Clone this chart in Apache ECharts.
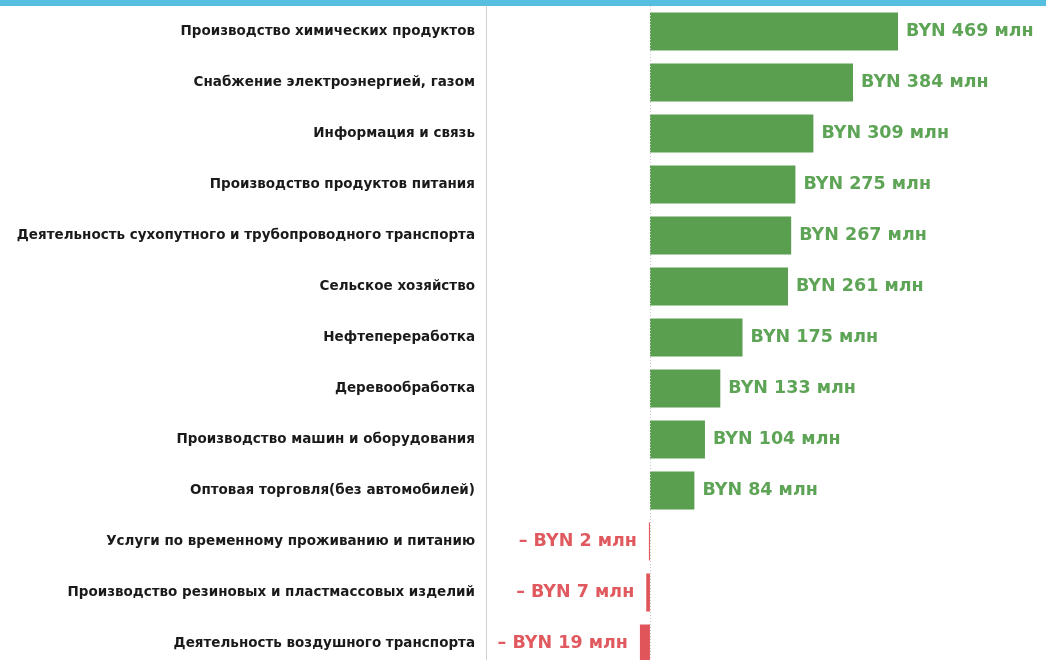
<!DOCTYPE html>
<html><head><meta charset="utf-8">
<script src="https://cdn.jsdelivr.net/npm/echarts@6/dist/echarts.min.js"></script>
<style>html,body{margin:0;padding:0;background:#fff;overflow:hidden;height:660px}#c{width:1046px;height:669px}</style>
</head><body><div id="c"></div>
<script>
const categories = [
  'Производство химических продуктов',
  'Снабжение электроэнергией, газом',
  'Информация и связь',
  'Производство продуктов питания',
  'Деятельность сухопутного и трубопроводного транспорта',
  'Сельское хозяйство',
  'Нефтепереработка',
  'Деревообработка',
  'Производство машин и оборудования',
  'Оптовая торговля(без автомобилей)',
  'Услуги по временному проживанию и питанию',
  'Производство резиновых и пластмассовых изделий',
  'Деятельность воздушного транспорта'
];
const values = [469, 384, 309, 275, 267, 261, 175, 133, 104, 84, -2, -7, -19];
const posColor = '#5a9e50', negColor = '#e0555a';
const posLabel = '#5ea456', negLabel = '#e0595e';

const chart = echarts.init(document.getElementById('c'));
chart.setOption({
  animation: false,
  backgroundColor: '#fff',
  graphic: [{type:'rect', shape:{x:0,y:0,width:1046,height:6}, style:{fill:'#56bfe0'}}],
  grid: {left: 486, top: 6, width: 412, bottom: 0, containLabel: false},
  xAxis: {type:'value', min:-310, max:469, show:false},
  yAxis: {
    type:'category', data: categories, inverse: true,
    axisLine:{show:true, onZero:false, lineStyle:{color:'#cfcfcf', width:1}},
    axisTick:{show:false},
    axisLabel:{margin:11, color:'#1a1a1a', fontFamily:'DejaVu Sans', fontWeight:'bold', fontSize:13.5}
  },
  series: [{
    type:'bar', barWidth:38,
    data: values.map(v => ({value:v, itemStyle:{color: v<0?negColor:posColor}, label:{position: v<0?'left':'right', color: v<0?negLabel:posLabel, distance: v<0?12:8}})),
    label:{show:true, fontFamily:'DejaVu Sans', fontWeight:'bold', fontSize:17.5,
      formatter: p => p.value<0 ? '– BYN ' + Math.abs(p.value) + ' млн' : 'BYN ' + p.value + ' млн'},
    markLine:{silent:true, symbol:'none', label:{show:false},
      lineStyle:{color:'#c8c8c8', type:[1,2], width:1}, data:[{xAxis:0}]}
  }]
});
</script></body></html>
